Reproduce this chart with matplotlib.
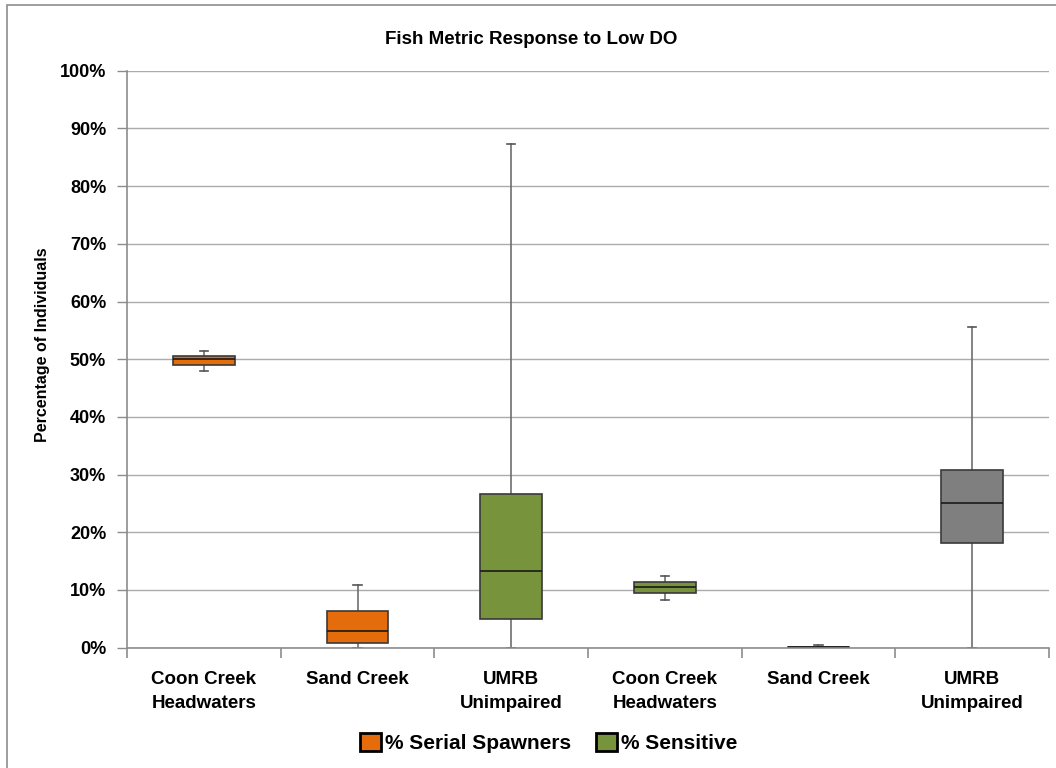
import matplotlib.pyplot as plt
from matplotlib.patches import Patch, Rectangle
from matplotlib.ticker import FuncFormatter

plt.rcParams['font.family'] = ['Liberation Sans', 'DejaVu Sans']
plt.rcParams['font.weight'] = 'bold'

# box statistics (percent)
sites = ["Coon Creek\nHeadwaters", "Sand Creek", "UMRB\nUnimpaired",
         "Coon Creek\nHeadwaters", "Sand Creek", "UMRB\nUnimpaired"]
mins = [48.0, 0.0, 0.0, 8.3, 0.0, 0.0]
q1s = [49.0, 0.8, 4.9, 9.4, 0.0, 18.2]
meds = [50.0, 2.9, 13.3, 10.5, 0.05, 25.0]
q3s = [50.6, 6.4, 26.7, 11.4, 0.2, 30.8]
maxs = [51.5, 10.9, 87.3, 12.5, 0.4, 55.5]
box_colors = ["#E46C0A", "#E46C0A", "#77933C", "#77933C", "#7F7F7F", "#7F7F7F"]

legend_labels = ["% Serial Spawners", "% Sensitive"]
legend_colors = ["#E46C0A", "#77933C"]

fig = plt.figure(figsize=(10.56, 7.68), dpi=100)
ax = fig.add_axes([127 / 1056, 1 - 647.7 / 768, (1049 - 127) / 1056, (647.7 - 70.7) / 768])

stats = []
for i in range(len(sites)):
    stats.append({"whislo": mins[i] / 100, "q1": q1s[i] / 100, "med": meds[i] / 100,
                  "q3": q3s[i] / 100, "whishi": maxs[i] / 100, "fliers": []})

pos = list(range(1, len(sites) + 1))
b = ax.bxp(stats, positions=pos, widths=0.4, patch_artist=True, showfliers=False,
           capwidths=0.055,
           boxprops=dict(edgecolor="#3a3a3a", linewidth=1.2),
           medianprops=dict(color="#1a1a1a", linewidth=1.2),
           whiskerprops=dict(color="#6e6e6e", linewidth=1.2),
           capprops=dict(color="#555555", linewidth=1.2))
for patch, c in zip(b["boxes"], box_colors):
    patch.set_facecolor(c)
for w in b["whiskers"]:
    w.set_zorder(1.5)

ax.set_xlim(0.5, 6.5)
ax.set_ylim(0, 1)
ax.set_yticks([i / 10 for i in range(11)])
ax.yaxis.set_major_formatter(FuncFormatter(lambda v, p: f"{v * 100:.0f}%"))
ax.grid(axis="y", color="#ababab", linewidth=1)
ax.set_axisbelow(True)

ax.set_xticks([i + 0.5 for i in range(7)])
ax.set_xticklabels([])
ax.set_xticks(pos, minor=True)
ax.set_xticklabels(sites, minor=True, fontsize=13.5, fontweight="bold", linespacing=1.5)
ax.tick_params(axis="x", which="minor", length=0, pad=17)
ax.tick_params(axis="x", which="major", length=7, color="#8c8c8c", width=1.2)
ax.tick_params(axis="y", length=7, color="#8c8c8c", width=1, labelsize=13, pad=8)
for t in ax.get_yticklabels():
    t.set_fontweight("bold")

for s in ["top", "right"]:
    ax.spines[s].set_visible(False)
for s in ["left", "bottom"]:
    ax.spines[s].set_color("#8c8c8c")
    ax.spines[s].set_linewidth(1.2)

fig.text(531 / 1056, 1 - 40 / 768, "Fish Metric Response to Low DO", ha="center", va="center",
         fontsize=13.5, fontweight="bold")
fig.text(43 / 1056, 1 - 345 / 768, "Percentage of Individuals", ha="center", va="center",
         rotation=90, fontsize=11.5, fontweight="bold")

handles = [Patch(facecolor=c, edgecolor="black", linewidth=2) for c in legend_colors]
fig.legend(handles, legend_labels, loc="center", bbox_to_anchor=(549 / 1056, 1 - 743 / 768),
           ncol=2, frameon=False, handlelength=1.0, handleheight=1.0,
           handletextpad=0.2, columnspacing=1.2, prop={"weight": "bold", "size": 15})

fig.patches.append(Rectangle((7 / 1056, -0.05), 1.1, 1 - 5 / 768 + 0.05, transform=fig.transFigure,
                             fill=False, edgecolor="#8c8c8c", linewidth=1.2))

fig.savefig("out.png", dpi=100)
